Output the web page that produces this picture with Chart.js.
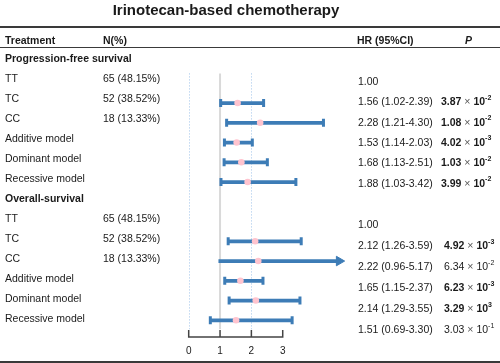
<!DOCTYPE html>
<html>
<head>
<meta charset="utf-8">
<title>Irinotecan-based chemotherapy</title>
<script src="https://cdn.jsdelivr.net/npm/chart.js@4.4.0/dist/chart.umd.min.js"></script>
<style>
  body { margin: 0; background: #fff; }
  #wrap { position: relative; width: 500px; height: 363px; overflow: hidden;
          font-family: 'Liberation Sans', Arial, sans-serif; font-size: 10.5px; color: #1a1a1a; }
  #chartBox { position: absolute; left: 0; top: 0; width: 500px; height: 363px; }
  .t { position: absolute; white-space: nowrap; line-height: 1; transform: translateY(-50%); }
  .b { font-weight: bold; }
  .rule { position: absolute; left: 0; width: 500px; background: #3a3a3a; }
  .times { font-weight: normal; color: #555; }
  sup { font-size: 7px; line-height: 0; position: relative; top: -1px; }
</style>
</head>
<body>
<div id="wrap">
  <div id="chartBox"><canvas id="forest"></canvas></div>
</div>
<script>
// --- data ---
const rowLabels = ['TT', 'TC', 'CC', 'Additive model', 'Dominant model', 'Recessive model'];
const rowN = ['65 (48.15%)', '52 (38.52%)', '18 (13.33%)', '', '', ''];

// progression-free survival
const pfsHR = [1.00, 1.56, 2.28, 1.53, 1.68, 1.88];
const pfsLow = [null, 1.02, 1.21, 1.14, 1.13, 1.03];
const pfsHigh = [null, 2.39, 4.30, 2.03, 2.51, 3.42];
const pfsP = [null, 3.87, 1.08, 4.02, 1.03, 3.99];
const pfsPexp = [null, -2, -2, -3, -2, -2];
const pfsPbold = [false, true, true, true, true, true];

// overall survival
const osHR = [1.00, 2.12, 2.22, 1.65, 2.14, 1.51];
const osLow = [null, 1.26, 0.96, 1.15, 1.29, 0.69];
const osHigh = [null, 3.59, 5.17, 2.37, 3.55, 3.30];
const osP = [null, 4.92, 6.34, 6.23, 3.29, 3.03];
const osPexp = [null, -3, -2, -3, 3, -1];   // "10^3" is how the figure prints it
const osPbold = [false, true, false, true, true, false];

const xTicks = [0, 1, 2, 3];
const xMax = 5;
const clipAt = 4.8;   // CI past this gets an arrow instead of a cap

const blue = '#3d7cb6';
const pink = '#ffc4cf';

const wrap = document.getElementById('wrap');

function put(html, x, y, cls, extra) {
    const d = document.createElement('div');
    d.className = 't ' + (cls || '');
    d.style.left = x + 'px';
    d.style.top = y + 'px';
    if (extra) Object.assign(d.style, extra);
    d.innerHTML = html;
    wrap.appendChild(d);
    return d;
}

function rule(y, h) {
    const d = document.createElement('div');
    d.className = 'rule';
    d.style.top = y + 'px';
    d.style.height = h + 'px';
    wrap.appendChild(d);
}

// title + header
put('Irinotecan-based chemotherapy', 226, 9, 'b', { fontSize: '15px', transform: 'translate(-50%, -50%)' });
rule(26.3, 2);
rule(46.5, 1.5);
rule(360.5, 2);
put('Treatment', 5, 40, 'b');
put('N(%)', 103, 40, 'b');
put('HR (95%CI)', 357, 40, 'b');
put('P', 465, 40, 'b', { fontStyle: 'italic' });

// left table: group headings + rows
const leftY = i => 57.7 + i * 20.05;
put('Progression-free survival', 5, leftY(0), 'b');
put('Overall-survival', 5, leftY(7), 'b');
rowLabels.forEach((lab, i) => {
    put(lab, 5, leftY(1 + i));
    put(rowN[i], 103, leftY(1 + i));
    put(lab, 5, leftY(8 + i));
    put(rowN[i], 103, leftY(8 + i));
});

// right table: HR (CI) and P
function hrText(hr, lo, hi) {
    if (lo == null) return hr.toFixed(2);
    return `${hr.toFixed(2)} (${lo.toFixed(2)}-${hi.toFixed(2)})`;
}
function pText(p, e) {
    return `${p.toFixed(2)} <span class="times">×</span> 10<sup>${e}</sup>`;
}
function rightCol(hr, lo, hi, p, pe, pb, y0, step, px) {
    hr.forEach((v, i) => {
        const y = y0 + i * step;
        put(hrText(v, lo[i], hi[i]), 358, y);
        if (p[i] != null) put(pText(p[i], pe[i]), px, y, pb[i] ? 'b' : '');
    });
}
rightCol(pfsHR, pfsLow, pfsHigh, pfsP, pfsPexp, pfsPbold, 81, 20.3, 441);
rightCol(osHR, osLow, osHigh, osP, osPexp, osPbold, 224, 21, 444);

// --- chart marks ---
const ciBars = [], caps = [], arrows = [], points = [];
function addGroup(hr, low, high, offset) {
    hr.forEach((v, i) => {
        if (low[i] == null) return;   // reference row, no CI
        const y = offset + i;
        const clipped = high[i] > clipAt;
        ciBars.push({ y: y, x: [low[i], Math.min(high[i], clipAt)] });
        points.push({ x: v, y: y });
        if (clipped) {
            arrows.push({ x: clipAt, y: y });
        } else {
            caps.push({ x: low[i], y: y });
            caps.push({ x: high[i], y: y });
        }
    });
}
addGroup(pfsHR, pfsLow, pfsHigh, 0);
addGroup(osHR, osLow, osHigh, 7);

// reference lines behind, little axis (0..3, ticks up) in front
const forestDecor = {
    id: 'forestDecor',
    beforeDatasetsDraw(chart) {
        const { ctx, scales: { x, y } } = chart;
        const top = y.getPixelForValue(-0.5);
        const bot = y.getPixelForValue(12.45);
        ctx.save();
        ctx.strokeStyle = '#d9d9d9';
        ctx.lineWidth = 2;
        ctx.beginPath();
        ctx.moveTo(x.getPixelForValue(1), top);
        ctx.lineTo(x.getPixelForValue(1), bot);
        ctx.stroke();
        ctx.strokeStyle = '#9fc3ea';
        ctx.lineWidth = 1;
        ctx.setLineDash([1, 2]);
        [0, 2].forEach(v => {
            const px = Math.round(x.getPixelForValue(v)) + 0.5;
            ctx.beginPath();
            ctx.moveTo(px, top);
            ctx.lineTo(px, bot);
            ctx.stroke();
        });
        ctx.restore();
    },
    afterDatasetsDraw(chart) {
        const { ctx, scales: { x, y } } = chart;
        const base = y.getPixelForValue(12.85);
        ctx.save();
        ctx.strokeStyle = '#444';
        ctx.lineWidth = 1.5;
        ctx.beginPath();
        ctx.moveTo(x.getPixelForValue(xTicks[0]), base);
        ctx.lineTo(x.getPixelForValue(xTicks[xTicks.length - 1]), base);
        xTicks.forEach(t => {
            const px = x.getPixelForValue(t);
            ctx.moveTo(px, base + 0.75);
            ctx.lineTo(px, base - 7);
        });
        ctx.stroke();
        ctx.restore();
    }
};

const chart = new Chart(document.getElementById('forest').getContext('2d'), {
    type: 'bar',
    data: {
        datasets: [
            {
                type: 'bar', indexAxis: 'y', data: ciBars,
                backgroundColor: blue, barThickness: 3, order: 3
            },
            {
                type: 'scatter', data: caps,
                pointStyle: 'line', pointRotation: 90, pointRadius: 4,
                pointBorderWidth: 3, pointBorderColor: blue, order: 2
            },
            {
                type: 'scatter', data: arrows,
                pointStyle: 'triangle', pointRotation: 90, pointRadius: 5.5,
                pointBackgroundColor: blue, pointBorderColor: blue, pointBorderWidth: 1, order: 1
            },
            {
                type: 'scatter', data: points,
                pointStyle: 'circle', pointRadius: 3.3,
                pointBackgroundColor: pink, pointBorderWidth: 0, order: 0
            }
        ]
    },
    options: {
        animation: false,
        responsive: true,
        maintainAspectRatio: false,
        layout: { autoPadding: false, padding: { left: 188.7, right: 154.6, top: 63.55, bottom: 22.95 } },
        plugins: { legend: { display: false }, tooltip: { enabled: false } },
        scales: {
            x: { type: 'linear', min: 0, max: xMax, offset: false, beginAtZero: false,
                 grid: { offset: false }, display: false },
            y: { type: 'linear', min: -1, max: 13, reverse: true, offset: false, beginAtZero: false,
                 grid: { offset: false }, display: false }
        }
    },
    plugins: [forestDecor]
});

// tick labels under the little axis
xTicks.forEach(t => {
    put(String(t), chart.scales.x.getPixelForValue(t), 350.7, '', {
        fontSize: '10px', transform: 'translate(-50%, -50%)'
    });
});
</script>
</body>
</html>
